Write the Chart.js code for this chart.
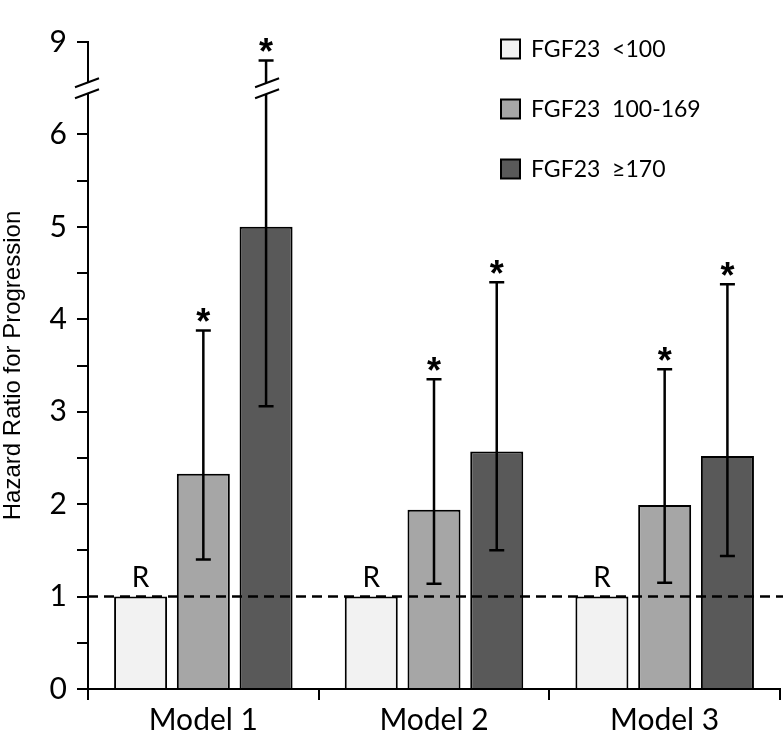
<!DOCTYPE html>
<html>
<head>
<meta charset="utf-8">
<script src="https://cdn.jsdelivr.net/npm/chart.js@4.4.1/dist/chart.umd.min.js"></script>
<style>
  html, body { margin: 0; padding: 0; background: #fff; }
  #wrap { width: 783px; height: 742px; }
</style>
</head>
<body>
<div id="wrap"><canvas id="hrChart" width="783" height="742"></canvas></div>
<script>
// data
const categories = ["Model 1", "Model 2", "Model 3"];
const seriesLabels = ["FGF23  <100", "FGF23  100-169", "FGF23  \u2265170"];
const seriesColors = ["#f2f2f2", "#a6a6a6", "#595959"];

const hrLow = [1, 1, 1];
const hrMid = [2.33, 1.94, 1.99];
const hrHigh = [5.0, 2.57, 2.52];

const ciMidLower = [1.40, 1.14, 1.15];
const ciMidUpper = [3.88, 3.35, 3.46];
const ciHighLower = [3.06, 1.50, 1.44];
const ciHighUpper = [8.8, 4.40, 4.38];

const yTickValues = [0, 1, 2, 3, 4, 5, 6, 9];

// broken y axis: everything between 6.5 and 8.5 is cut out
const BREAK_LO = 6.5;
const BREAK_HI = 8.5;
function toAxis(v) {
  return v <= BREAK_LO ? v : BREAK_LO + (v - BREAK_HI);
}
function fromAxis(a) {
  return a <= BREAK_LO ? a : a - BREAK_LO + BREAK_HI;
}

const errBars = [
  null,
  { lower: ciMidLower, upper: ciMidUpper, star: true },
  { lower: ciHighLower, upper: ciHighUpper, star: true }
];

function drawBreak(ctx, cx, cy) {
  // white gap + two slashes
  ctx.save();
  ctx.fillStyle = "#fff";
  ctx.beginPath();
  ctx.moveTo(cx - 11, cy - 5.5 + 4);
  ctx.lineTo(cx + 11, cy - 5.5 - 4);
  ctx.lineTo(cx + 11, cy + 5.5 - 4);
  ctx.lineTo(cx - 11, cy + 5.5 + 4);
  ctx.closePath();
  ctx.fill();
  ctx.strokeStyle = "#000";
  ctx.lineWidth = 2;
  [-5.5, 5.5].forEach((d) => {
    ctx.beginPath();
    ctx.moveTo(cx - 12, cy + d + 4.5);
    ctx.lineTo(cx + 12, cy + d - 4.5);
    ctx.stroke();
  });
  ctx.restore();
}

const extrasPlugin = {
  id: "extras",
  afterDatasetsDraw(chart) {
    const ctx = chart.ctx;
    const y = chart.scales.y;
    const area = chart.chartArea;

    // error bars and stars
    errBars.forEach((eb, di) => {
      if (!eb) return;
      const meta = chart.getDatasetMeta(di);
      meta.data.forEach((bar, i) => {
        const x = bar.x;
        const yLo = y.getPixelForValue(toAxis(eb.lower[i]));
        const yHi = y.getPixelForValue(toAxis(eb.upper[i]));
        ctx.save();
        ctx.strokeStyle = "#000";
        ctx.lineWidth = 2.5;
        ctx.beginPath();
        ctx.moveTo(x, yLo);
        ctx.lineTo(x, yHi);
        ctx.moveTo(x - 7.5, yLo);
        ctx.lineTo(x + 7.5, yLo);
        ctx.moveTo(x - 7.5, yHi);
        ctx.lineTo(x + 7.5, yHi);
        ctx.stroke();
        ctx.restore();
        if (eb.upper[i] > BREAK_HI) {
          drawBreak(ctx, x + 1, y.getPixelForValue(BREAK_LO));
        }
        if (eb.star) {
          ctx.save();
          ctx.fillStyle = "#000";
          ctx.font = "bold 36px 'Liberation Sans'";
          ctx.textAlign = "center";
          ctx.textBaseline = "alphabetic";
          ctx.fillText("*", x, yHi + 4);
          ctx.restore();
        }
      });
    });

    // reference group label
    const refMeta = chart.getDatasetMeta(0);
    refMeta.data.forEach((bar, i) => {
      ctx.save();
      ctx.fillStyle = "#000";
      ctx.font = "28px Lato";
      ctx.textAlign = "center";
      ctx.textBaseline = "alphabetic";
      ctx.fillText("R", bar.x, y.getPixelForValue(hrLow[i]) - 10);
      ctx.restore();
    });

    // dashed line at HR = 1
    const y1 = y.getPixelForValue(1);
    ctx.save();
    ctx.strokeStyle = "#000";
    ctx.lineWidth = 2.5;
    ctx.setLineDash([10, 6]);
    ctx.beginPath();
    ctx.moveTo(area.left, y1);
    ctx.lineTo(chart.width, y1);
    ctx.stroke();
    ctx.restore();

    // axis break
    drawBreak(ctx, area.left - 1, y.getPixelForValue(BREAK_LO));

    // legend
    chart.data.datasets.forEach((ds, i) => {
      const cy = 49 + i * 60;
      ctx.save();
      ctx.fillStyle = ds.backgroundColor;
      ctx.fillRect(501, cy - 9.5, 19, 19);
      ctx.strokeStyle = "#000";
      ctx.lineWidth = 2;
      ctx.strokeRect(501, cy - 9.5, 19, 19);
      ctx.fillStyle = "#000";
      ctx.font = "23px Lato";
      ctx.textAlign = "left";
      ctx.textBaseline = "middle";
      ctx.fillText(ds.label, 531, cy + 1);
      ctx.restore();
    });
  }
};

const datasets = [hrLow, hrMid, hrHigh].map((vals, i) => ({
  label: seriesLabels[i],
  data: vals.map(toAxis),
  backgroundColor: seriesColors[i],
  borderColor: "#000",
  borderWidth: 2,
  borderSkipped: "bottom",
  categoryPercentage: 0.816,
  barPercentage: 0.845
}));

new Chart(document.getElementById("hrChart").getContext("2d"), {
  type: "bar",
  data: { labels: categories, datasets },
  options: {
    responsive: false,
    animation: false,
    devicePixelRatio: 1,
    layout: { padding: { top: 42, right: 3, left: 0, bottom: 0 } },
    plugins: {
      legend: { display: false },
      tooltip: { enabled: false }
    },
    scales: {
      x: {
        grid: {
          offset: true,
          drawOnChartArea: false,
          tickLength: 11,
          color: "#000",
          lineWidth: 2
        },
        border: { color: "#000", width: 2 },
        ticks: {
          color: "#000",
          font: { family: "Lato", size: 30 },
          padding: 2
        },
        afterFit(scale) { scale.height = 53; }
      },
      y: {
        min: 0,
        max: toAxis(9),
        afterBuildTicks(scale) {
          const t = [];
          for (let v = 0; v <= 7; v += 0.5) t.push({ value: v });
          scale.ticks = t;
        },
        grid: {
          drawOnChartArea: false,
          tickLength: 11,
          lineWidth: 2,
          color: (c) => (c.tick && c.tick.value === BREAK_LO ? "rgba(0,0,0,0)" : "#000")
        },
        border: { color: "#000", width: 2 },
        ticks: {
          color: "#000",
          font: { family: "Lato", size: 30 },
          padding: 10,
          callback: (v) => {
            const real = fromAxis(v);
            return yTickValues.includes(real) && Number.isInteger(v) ? String(real) : "";
          }
        },
        title: {
          display: true,
          text: "Hazard Ratio for Progression",
          color: "#000",
          font: { family: "Liberation Sans", size: 24, lineHeight: 1.0 },
          padding: { top: 1, bottom: 0 }
        },
        afterFit(scale) { scale.width = 88; }
      }
    }
  },
  plugins: [extrasPlugin]
});
</script>
</body>
</html>
